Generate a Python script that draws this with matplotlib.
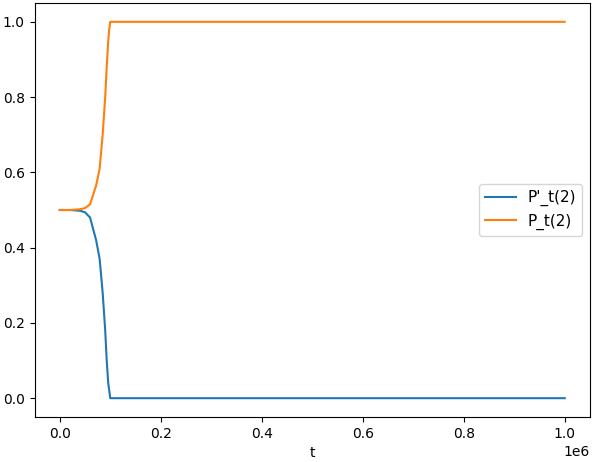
import numpy as np
import matplotlib.pyplot as plt

# time steps and probabilities
t = [0, 20000, 40000, 50000, 60000, 66000, 72000, 79000, 85000,
     90000, 93000, 96000, 98000, 100000, 1000000]
p_up = [0.5, 0.5, 0.502, 0.505, 0.515, 0.54, 0.565, 0.61, 0.70,
        0.80, 0.88, 0.95, 0.98, 1.0, 1.0]
p_down = [0.5, 0.5, 0.498, 0.494, 0.48, 0.45, 0.42, 0.37, 0.28,
          0.18, 0.10, 0.04, 0.02, 0.0, 0.0]

fig = plt.figure(figsize=(5.94, 4.62), dpi=100)
ax = fig.add_subplot(111)
fig.subplots_adjust(left=34.5 / 594, right=590 / 594,
                    top=1 - 3 / 462, bottom=1 - 417 / 462)

ax.plot(t, p_down, label="P'_t(2)")
ax.plot(t, p_up, label="P_t(2)")
ax.set_xlabel("t")
ax.legend(loc="center right", fontsize=11)

fig.savefig("out.png", dpi=100)
